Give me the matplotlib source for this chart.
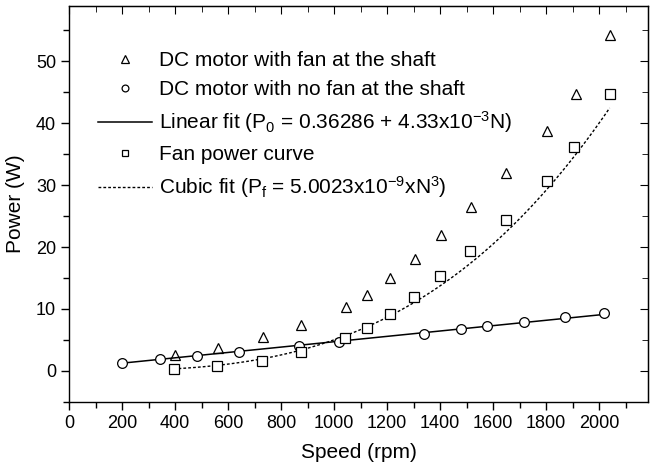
import matplotlib
matplotlib.use('Agg')
import matplotlib.pyplot as plt
import numpy as np
from matplotlib.ticker import MultipleLocator

plt.rcParams['font.family'] = ['Liberation Sans', 'DejaVu Sans']
plt.rcParams['mathtext.fontset'] = 'custom'
plt.rcParams['mathtext.rm'] = 'Liberation Sans'
plt.rcParams['mathtext.it'] = 'Liberation Sans'

# DC motor with fan at the shaft
fan_speed = [399, 561, 730, 876, 1044, 1124, 1211, 1306, 1403, 1516, 1648, 1803, 1913, 2040]
fan_power = [2.5, 3.6, 5.4, 7.35, 10.3, 12.2, 15.0, 18.05, 21.9, 26.5, 31.9, 38.7, 44.7, 54.2]

# DC motor with no fan at the shaft
nofan_speed = [200, 344, 482, 641, 868, 1020, 1338, 1478, 1577, 1718, 1872, 2018]
nofan_power = [1.3, 1.9, 2.4, 3.0, 4.05, 4.7, 5.95, 6.7, 7.2, 7.8, 8.65, 9.3]

# Fan power curve
curve_speed = [394, 556, 728, 873, 1042, 1123, 1210, 1303, 1401, 1514, 1649, 1803, 1906, 2040]
curve_power = [0.3, 0.8, 1.6, 3.0, 5.35, 6.9, 9.2, 11.9, 15.3, 19.3, 24.3, 30.6, 36.1, 44.7]

# fit coefficients (from the legend)
lin_a, lin_b = 0.36286, 4.33e-3
cub_k = 5.0023e-9

fig = plt.figure(figsize=(6.5, 4.68), dpi=100)
ax = fig.add_axes([0.1066, 0.1417, 0.8904, 0.8461])

ax.plot(fan_speed, fan_power, linestyle='none', marker='^', ms=7.5, mfc='white',
        mec='black', mew=0.9, label='DC motor with fan at the shaft')
ax.plot(nofan_speed, nofan_power, linestyle='none', marker='o', ms=7, mfc='white',
        mec='black', mew=0.9, label='DC motor with no fan at the shaft', zorder=3)

n_lin = np.linspace(nofan_speed[0], 2030, 50)
ax.plot(n_lin, lin_a + lin_b * n_lin, color='black', lw=1.1,
        label='Linear fit (P$_0$ = 0.36286 + 4.33x10$^{-3}$N)', zorder=2)

ax.plot(curve_speed, curve_power, linestyle='none', marker='s', ms=6.5, mfc='white',
        mec='black', mew=0.9, label='Fan power curve', zorder=3)

n_cub = np.linspace(curve_speed[0], 2040, 100)
ax.plot(n_cub, cub_k * n_cub ** 3, color='black', lw=1.0, linestyle=(0, (2, 1.5)),
        label='Cubic fit (P$_f$ = 5.0023x10$^{-9}$xN$^3$)', zorder=2)

ax.set_xlim(0, 2185)
ax.set_ylim(-5, 59)
ax.xaxis.set_major_locator(MultipleLocator(200))
ax.xaxis.set_minor_locator(MultipleLocator(100))
ax.yaxis.set_major_locator(MultipleLocator(10))
ax.yaxis.set_minor_locator(MultipleLocator(5))
ax.tick_params(which='major', direction='out', length=6, width=1, labelsize=13)
ax.tick_params(which='minor', direction='out', length=4, width=1)
for s in ax.spines.values():
    s.set_linewidth(1.0)

# inward ticks on top and right
top = ax.secondary_xaxis('top')
top.xaxis.set_major_locator(MultipleLocator(200))
top.xaxis.set_minor_locator(MultipleLocator(100))
top.tick_params(which='major', direction='in', length=6, labeltop=False)
top.tick_params(which='minor', direction='in', length=4)
right = ax.secondary_yaxis('right')
right.yaxis.set_major_locator(MultipleLocator(10))
right.yaxis.set_minor_locator(MultipleLocator(5))
right.tick_params(which='major', direction='in', length=6, labelright=False)
right.tick_params(which='minor', direction='in', length=4)

ax.set_xlabel('Speed (rpm)', fontsize=15, labelpad=8)
ax.set_ylabel('Power (W)', fontsize=15, labelpad=8)

ax.legend(loc='upper left', bbox_to_anchor=(0.05, 0.885), frameon=False, fontsize=15,
          handlelength=2.6, handletextpad=0.3, labelspacing=0.48, borderaxespad=0,
          borderpad=0, markerscale=0.7)

fig.savefig('out.png', dpi=100)
